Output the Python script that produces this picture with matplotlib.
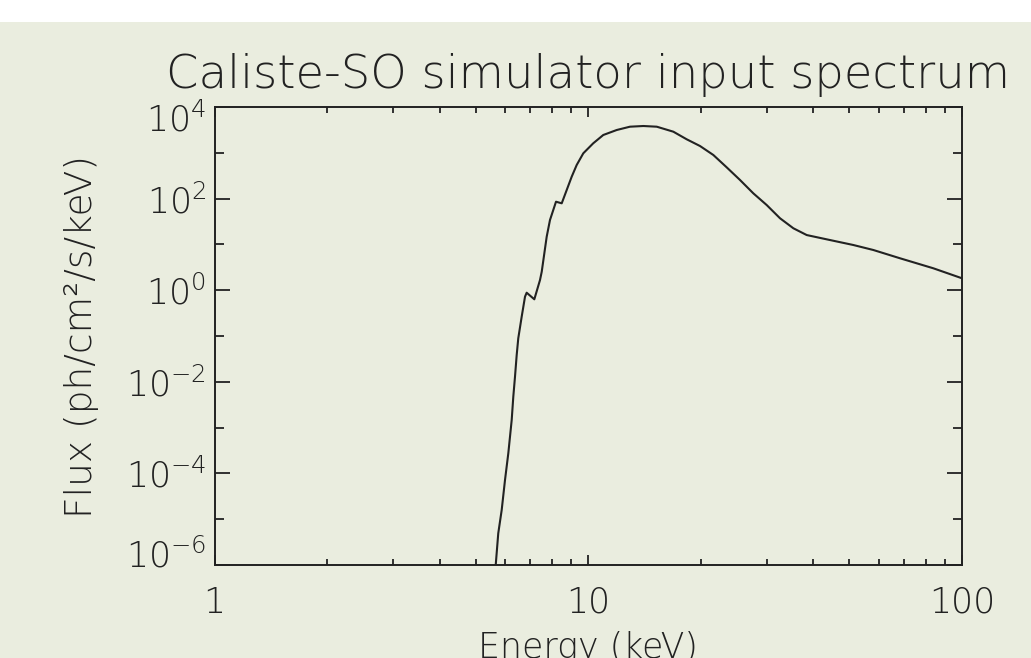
import matplotlib
matplotlib.use("Agg")
import matplotlib.pyplot as plt
from matplotlib.patches import Rectangle
from matplotlib.transforms import ScaledTranslation
from matplotlib.ticker import LogLocator, NullFormatter

# ---- data ----
energy_kev = [5.655, 5.744, 5.867, 5.988, 6.111, 6.240, 6.302, 6.368, 6.435, 6.498,
              6.636, 6.773, 6.843, 7.173, 7.429, 7.508, 7.741, 7.900, 8.198, 8.492,
              8.757, 9.031, 9.313, 9.700, 10.31, 10.97, 11.92, 12.93, 14.04, 15.25,
              16.89, 18.34, 19.91, 21.61, 23.46, 25.47, 27.64, 30.02, 32.59,
              35.38, 38.42, 43.45, 51.2, 57.9, 68.3, 83.8, 100.0]
flux = [1.0e-6, 4.92e-6, 1.59e-5, 7.18e-5, 2.75e-4, 1.47e-3, 4.73e-3, 0.0129, 0.0385, 0.0891,
        0.264, 0.721, 0.881, 0.633, 1.67, 2.53, 14.7, 34.1, 85.5, 78.9,
        154, 301, 542, 976, 1611, 2448, 3148, 3715, 3846, 3715,
        2891, 1972, 1406, 896, 482, 255, 130.6, 72.4, 37.2,
        22.5, 16.0, 12.9, 9.7, 7.55, 4.97, 3.01, 1.82]

x_ticks = [1, 10, 100]
x_ticklabels = ["1", "10", "100"]
y_major = [1e-6, 1e-4, 1e-2, 1e0, 1e2, 1e4]
y_ticklabels = [r"$10^{-6}$", r"$10^{-4}$", r"$10^{-2}$", r"$10^{0}$", r"$10^{2}$", r"$10^{4}$"]
y_minor = [1e-5, 1e-3, 1e-1, 1e1, 1e3]

title = "Caliste-SO simulator input spectrum"
xlabel = "Energy (keV)"
ylabel = "Flux (ph/cm\u00b2/s/keV)"

# ---- styling ----
BG = "#EAEDDF"
INK = "#222222"
plt.rcParams["font.family"] = ["DejaVu Sans"]
plt.rcParams["font.weight"] = "light"
plt.rcParams["axes.titleweight"] = "light"
plt.rcParams["axes.labelweight"] = "light"
plt.rcParams["mathtext.fontset"] = "dejavusans"

W, H = 1031, 658
fig = plt.figure(figsize=(W / 100, H / 100), dpi=100, facecolor="white")
fig.patches.append(Rectangle((0, 0), 1, (H - 22) / H, transform=fig.transFigure,
                             facecolor=BG, edgecolor="none", zorder=-10))

left, right, top, bottom = 214.5, 962.0, 107.0, 565.0
ax = fig.add_axes([left / W, (H - bottom) / H, (right - left) / W, (bottom - top) / H])
ax.set_facecolor(BG)

ax.plot(energy_kev, flux, color=INK, lw=1.5)

ax.set_xscale("log")
ax.set_yscale("log")
ax.set_xlim(1, 100)
ax.set_ylim(1e-6, 1e4)

for s in ax.spines.values():
    s.set_color(INK)
    s.set_linewidth(1.4)

ax.set_xticks(x_ticks, x_ticklabels)
ax.xaxis.set_minor_locator(LogLocator(base=10, subs=[2, 3, 4, 5, 6, 7, 8, 9]))
ax.xaxis.set_minor_formatter(NullFormatter())
ax.set_yticks(y_major, y_ticklabels)
ax.set_yticks(y_minor, minor=True)
ax.yaxis.set_minor_formatter(NullFormatter())

ax.tick_params(axis="x", which="major", direction="in", length=7, width=1.3,
               colors=INK, top=True, labelsize=25, pad=15)
ax.tick_params(axis="x", which="minor", direction="in", length=4.3, width=1.3,
               colors=INK, top=True)
ax.tick_params(axis="y", which="major", direction="in", length=11, width=1.3,
               colors=INK, right=True, labelsize=25, pad=6)
ax.tick_params(axis="y", which="minor", direction="in", length=6.8, width=1.3,
               colors=INK, right=True)

# end labels nudged inward, as in the reference
yt = ax.yaxis.get_major_ticks()
yt[0].label1.set_transform(yt[0].label1.get_transform() + ScaledTranslation(0, 12 / 100, fig.dpi_scale_trans))
yt[-1].label1.set_transform(yt[-1].label1.get_transform() + ScaledTranslation(0, -10 / 100, fig.dpi_scale_trans))

ax.set_title(title, fontsize=33.5, color=INK, pad=13.5, fontweight="light")
ax.set_xlabel(xlabel, fontsize=25, color=INK, fontweight="light")
ax.xaxis.set_label_coords(0.5, -0.144)
ax.xaxis.label.set_va("top")
ax.set_ylabel(ylabel, fontsize=27, color=INK, fontweight="light")
ax.yaxis.set_label_coords(-0.155, 0.5)

fig.savefig("out.png", dpi=100, facecolor="white")
